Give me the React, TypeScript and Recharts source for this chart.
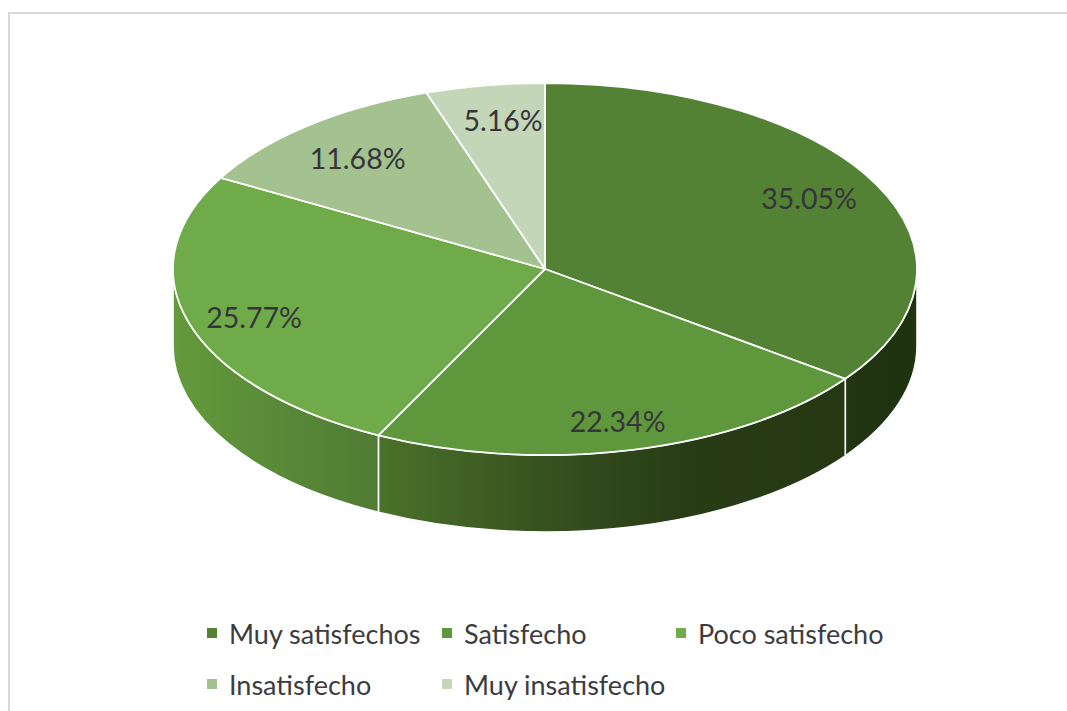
import { PieChart, Pie, Legend } from 'recharts'

const categories = ['Muy satisfechos', 'Satisfecho', 'Poco satisfecho', 'Insatisfecho', 'Muy insatisfecho']
const shares = [35.05, 22.34, 25.77, 11.68, 5.16]
const topColors = ['#548235', '#5f973d', '#6fac49', '#a3c28f', '#c4d6b8']
const wallFills = ['url(#wall0)', 'url(#wall1)', 'url(#wall2)', 'none', 'none']

const pieData = categories.map((name, i) => ({ name, value: shares[i], fill: topColors[i] }))
const wallData = categories.map((name, i) => ({ name, value: shares[i], fill: wallFills[i] }))

const WIDTH = 1067
const HEIGHT = 711
const CX = 545
const CY = 269
const RX = 372
const TILT = 0.5 // ellipse ry / rx
const DEPTH = 77
const FONT = 'Lato, Carlito, sans-serif'

// label position as a share of the radius, per slice
const labelXRatio = [0.796, 0.83, 0.818, 0.79, 0.7]
const labelYRatio = [0.84, 0.84, 0.88, 0.775, 0.81]

// legend slots
const legendX = [207, 442, 676, 207, 442]
const legendY = [634, 634, 634, 685, 685]

const rad = (deg: number) => (deg * Math.PI) / 180
const px = (cx: number, r: number, a: number) => cx + r * Math.cos(rad(a))
const py = (cy: number, r: number, a: number) => cy - r * TILT * Math.sin(rad(a))

function TopSlice(props: any) {
  const { cx, cy, outerRadius: r, startAngle, endAngle, fill } = props
  const large = Math.abs(startAngle - endAngle) > 180 ? 1 : 0
  const d = `M${cx},${cy} L${px(cx, r, startAngle)},${py(cy, r, startAngle)} A${r},${r * TILT} 0 ${large} 1 ${px(cx, r, endAngle)},${py(cy, r, endAngle)} Z`
  return <path d={d} fill={fill} stroke="#fff" strokeWidth={1.8} strokeLinejoin="round" />
}

// side wall, only the part of the slice facing the viewer (angles -180..0)
function WallSlice(props: any) {
  const { cx, cy, outerRadius: r, startAngle, endAngle, fill } = props
  const a0 = Math.min(startAngle, 0)
  const a1 = Math.max(endAngle, -180)
  if (a0 <= a1 || fill === 'none') return null
  const large = a0 - a1 > 180 ? 1 : 0
  const x0 = px(cx, r, a0)
  const y0 = py(cy, r, a0)
  const x1 = px(cx, r, a1)
  const y1 = py(cy, r, a1)
  const d = `M${x0},${y0} A${r},${r * TILT} 0 ${large} 1 ${x1},${y1} L${x1},${y1 + DEPTH} A${r},${r * TILT} 0 ${large} 0 ${x0},${y0 + DEPTH} Z`
  return <path d={d} fill={fill} stroke="#fff" strokeWidth={1.6} strokeLinejoin="round" />
}

function renderLabel(props: any) {
  const { cx, cy, midAngle, outerRadius: r, index, value } = props
  const x = cx + r * labelXRatio[index] * Math.cos(rad(midAngle))
  const y = cy - r * TILT * labelYRatio[index] * Math.sin(rad(midAngle))
  return (
    <text x={x} y={y} textAnchor="middle" dominantBaseline="central" fontFamily={FONT} fontSize={28.5} fill="#35353a">
      {value.toFixed(2)}%
    </text>
  )
}

function renderLegend(props: any) {
  const items = (props.payload || []).filter((item: any) => topColors.includes(item.color))
  return (
    <div style={{ position: 'relative', width: WIDTH, height: HEIGHT }}>
      {items.map((item: any, i: number) => (
        <div key={item.value}>
          <div
            style={{
              position: 'absolute',
              left: legendX[i],
              top: legendY[i] - 6,
              width: 10,
              height: 10,
              background: item.color,
            }}
          />
          <div
            style={{
              position: 'absolute',
              left: legendX[i] + 22,
              top: legendY[i] - 20,
              height: 40,
              lineHeight: '40px',
              fontFamily: FONT,
              fontSize: 27,
              color: '#3c3c40',
              whiteSpace: 'nowrap',
            }}
          >
            {item.value}
          </div>
        </div>
      ))}
    </div>
  )
}

export default function App() {
  return (
    <div style={{ position: 'absolute', left: 0, top: 0, width: WIDTH, height: HEIGHT, overflow: 'hidden', background: '#fff' }}>
      <div
        style={{
          position: 'absolute',
          left: 8,
          top: 12,
          width: WIDTH,
          height: HEIGHT,
          borderLeft: '2px solid #d9d9d9',
          borderTop: '2px solid #d9d9d9',
        }}
      />
      <PieChart
        width={WIDTH}
        height={HEIGHT}
        margin={{ top: 0, right: 0, bottom: 0, left: 0 }}
        style={{ position: 'absolute', left: 0, top: 0 }}
      >
        <defs>
          <linearGradient id="wall0" x1="0" x2="1" y1="0" y2="0">
            <stop offset="0" stopColor="#223512" />
            <stop offset="1" stopColor="#203310" />
          </linearGradient>
          <linearGradient id="wall1" x1="0" x2="1" y1="0" y2="0">
            <stop offset="0" stopColor="#4a722a" />
            <stop offset="0.35" stopColor="#37521f" />
            <stop offset="0.65" stopColor="#283c16" />
            <stop offset="1" stopColor="#253813" />
          </linearGradient>
          <linearGradient id="wall2" x1="0" x2="1" y1="0" y2="0">
            <stop offset="0" stopColor="#639a3c" />
            <stop offset="1" stopColor="#4f7b33" />
          </linearGradient>
        </defs>
        <Pie
          data={wallData}
          dataKey="value"
          nameKey="name"
          cx={CX}
          cy={CY}
          outerRadius={RX}
          startAngle={90}
          endAngle={-270}
          legendType="none"
          shape={WallSlice}
          isAnimationActive={false}
        />
        <Pie
          data={pieData}
          dataKey="value"
          nameKey="name"
          cx={CX}
          cy={CY}
          outerRadius={RX}
          startAngle={90}
          endAngle={-270}
          shape={TopSlice}
          label={renderLabel}
          labelLine={false}
          isAnimationActive={false}
        />
        <Legend
          content={renderLegend}
          itemSorter={null}
          wrapperStyle={{ left: 0, top: 0, bottom: 'auto', width: WIDTH, height: HEIGHT, pointerEvents: 'none' }}
        />
      </PieChart>
    </div>
  )
}
